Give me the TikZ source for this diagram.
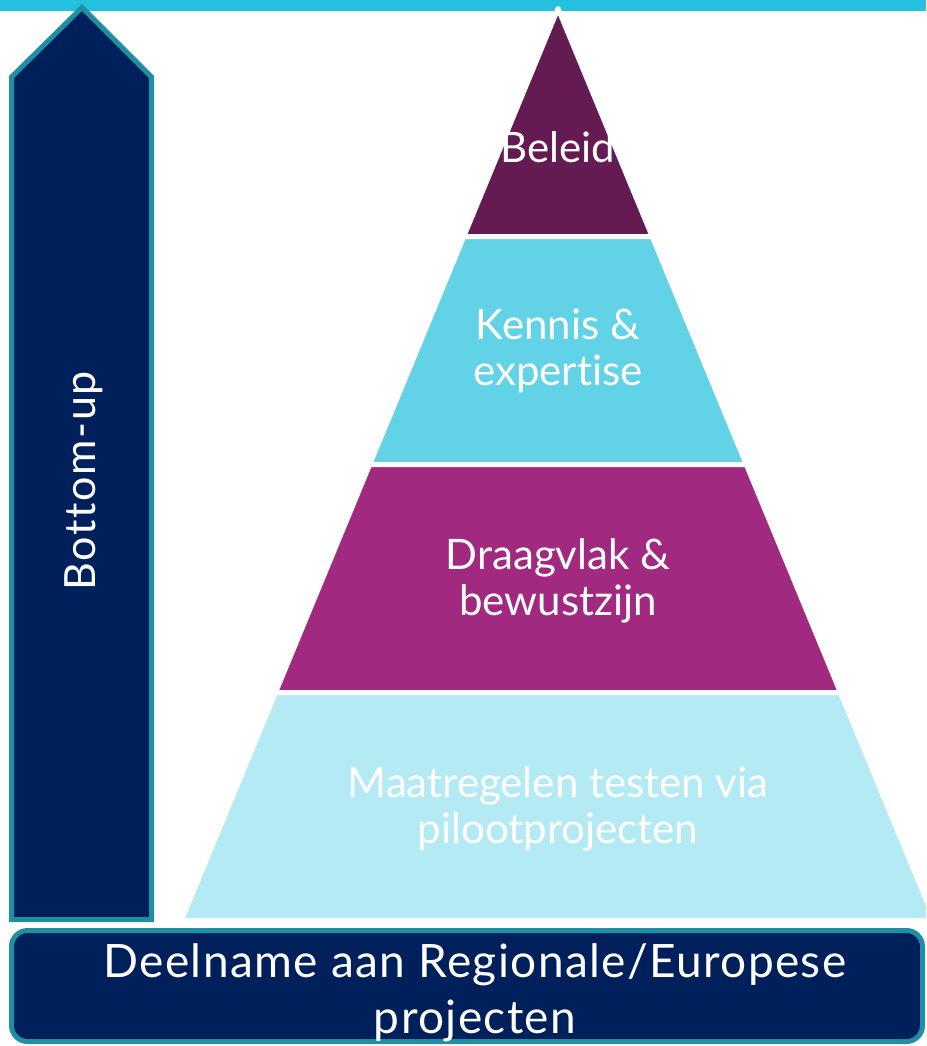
\documentclass[tikz,border=0pt]{standalone}
\usepackage{fontspec}
\setmainfont{Lato}[Ligatures={NoCommon}]
\definecolor{barcyan}{RGB}{38,193,224}
\definecolor{navy}{RGB}{0,32,91}
\definecolor{tealline}{RGB}{31,143,163}
\definecolor{plum}{RGB}{99,27,82}
\definecolor{skyblue}{RGB}{98,211,230}
\definecolor{magenta}{RGB}{162,41,128}
\definecolor{paleblue}{RGB}{180,234,244}
\tikzset{
  layer/.style={draw=white, line width=5pt, line join=round},
  navyshape/.style={fill=navy, draw=tealline, line width=5pt},
  pyrtext/.style={text=white, align=center, inner sep=0pt, font=\fontsize{42}{45.5}\selectfont},
  basetext/.style={text=white, align=center, inner sep=0pt, font=\fontsize{46}{56}\selectfont\addfontfeature{LetterSpace=3}},
  uptext/.style={text=white, inner sep=0pt, font=\fontsize{43}{46}\selectfont\addfontfeature{LetterSpace=4}}
}
\begin{document}
\begin{tikzpicture}[x=1pt,y=-1pt]
\path[use as bounding box] (0,0) rectangle (926,1046);
\clip (0,0) rectangle (926,1046);
% top bar
\fill[barcyan] (0,0) rectangle (926,11.5);
% bottom-up arrow
\draw[navyshape, line join=miter] (82,7.5) -- (151.5,77) -- (151.5,919.5) -- (11.5,919.5) -- (11.5,77) -- cycle;
% pyramid layers
\draw[layer, fill=plum] (558,8.5) -- (652.2,236.5) -- (463.8,236.5) -- cycle;
\draw[layer, fill=skyblue] (463.8,236.5) -- (652.2,236.5) -- (746.3,464.5) -- (369.7,464.5) -- cycle;
\draw[layer, fill=magenta] (369.7,464.5) -- (746.3,464.5) -- (840.5,692.5) -- (275.5,692.5) -- cycle;
\draw[layer, fill=paleblue] (275.5,692.5) -- (840.5,692.5) -- (934.7,920.5) -- (181.3,920.5) -- cycle;
% bottom box
\draw[navyshape, rounded corners=16pt] (11.5,930.5) rectangle (922.5,1041.5);
% texts
\node[pyrtext, anchor=base] (beleid) at (558,162) {Beleid};
\node[pyrtext, anchor=base] (kennis) at (558,385) {Kennis \&\\expertise};
\node[pyrtext, anchor=base] (draagvlak) at (558,615) {Draagvlak \&\\bewustzijn};
\node[pyrtext, anchor=base] (maatregelen) at (558,843) {Maatregelen testen via\\pilootprojecten};
\node[basetext, anchor=base] (deelname) at (475,1033) {Deelname aan Regionale/Europese\\projecten};
\node[uptext, rotate=90, anchor=base] (bottomup) at (95,481) {Bottom-up};
\end{tikzpicture}
\end{document}
